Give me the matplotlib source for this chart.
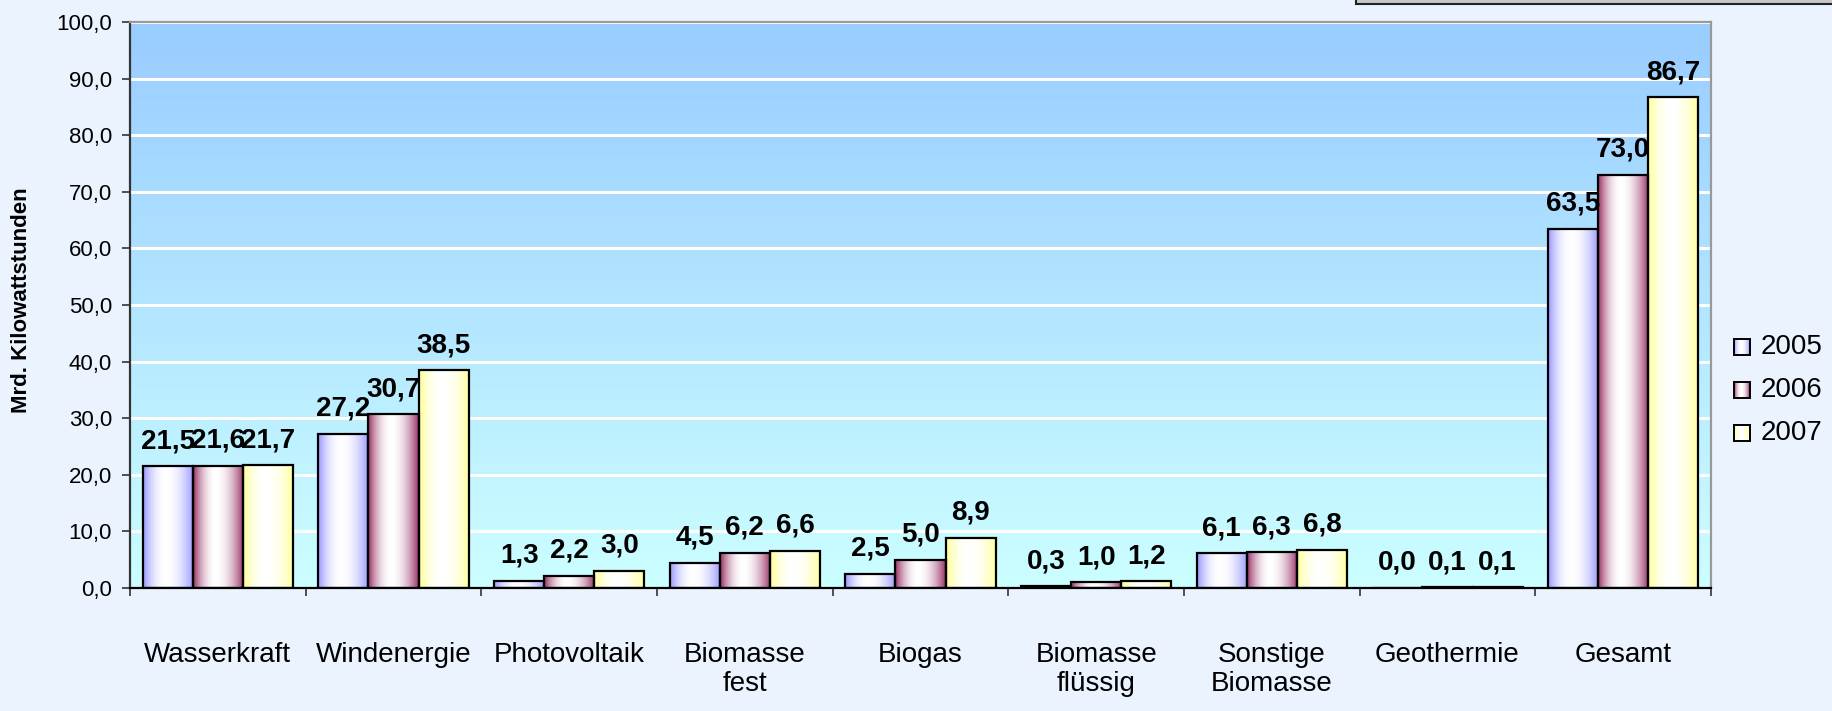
import numpy as np
import matplotlib
matplotlib.use("Agg")
import matplotlib.pyplot as plt
from matplotlib.patches import Rectangle
from matplotlib.ticker import FuncFormatter

plt.rcParams['font.family'] = ['Liberation Sans', 'DejaVu Sans']

# Daten (Mrd. kWh)
categories = ["Wasserkraft", "Windenergie", "Photovoltaik", "Biomasse\nfest", "Biogas",
              "Biomasse\nflüssig", "Sonstige\nBiomasse", "Geothermie", "Gesamt"]
years = ["2005", "2006", "2007"]
values_2005 = [21.5, 27.2, 1.3, 4.5, 2.5, 0.3, 6.1, 0.0, 63.5]
values_2006 = [21.6, 30.7, 2.2, 6.2, 5.0, 1.0, 6.3, 0.1, 73.0]
values_2007 = [21.7, 38.5, 3.0, 6.6, 8.9, 1.2, 6.8, 0.1, 86.7]
series = [values_2005, values_2006, values_2007]
colors = ["#9999FF", "#993366", "#FFFF99"]

FIG_BG = "#EAF3FE"


def bar_gradient(color, n=64, peak=0.45):
    """horizontaler Verlauf: Rand farbig, Mitte weiss"""
    t = np.linspace(0, 1, n)
    d = np.where(t < peak, (peak - t) / peak, (t - peak) / (1 - peak))
    w = 1 - d ** 2
    rgb = np.array(matplotlib.colors.to_rgb(color))
    img = rgb[None, :] * (1 - w[:, None]) + w[:, None]
    return img[None, :, :]


fig = plt.figure(figsize=(18.32, 7.11), dpi=100, facecolor=FIG_BG)
ax = fig.add_axes([130 / 1832, 1 - 588 / 711, (1711 - 130) / 1832, (588 - 22) / 711])

# Hintergrund der Zeichenflaeche
top = np.array(matplotlib.colors.to_rgb("#99CCFF"))
bottom = np.array(matplotlib.colors.to_rgb("#CCFFFF"))
s = np.linspace(0, 1, 256)[:, None]
bg = top * (1 - s) + bottom * s
ax.imshow(bg[:, None, :], extent=(0, 1, 0, 1), transform=ax.transAxes,
          aspect='auto', zorder=0, interpolation='bilinear')

x = np.arange(len(categories))
width = 0.285
for i, (vals, col) in enumerate(zip(series, colors)):
    pos = x + (i - 1) * width
    bars = ax.bar(pos, vals, width, facecolor='none', edgecolor='black',
                  linewidth=1.6, zorder=3)
    grad = bar_gradient(col)
    for b, v in zip(bars, vals):
        if b.get_height() > 0:
            ax.imshow(grad, extent=(b.get_x(), b.get_x() + b.get_width(), 0, b.get_height()),
                      aspect='auto', zorder=2, interpolation='bilinear')
        ax.annotate(f"{v:.1f}".replace('.', ','), (b.get_x() + b.get_width() / 2, b.get_height()),
                    xytext=(0, 13), textcoords='offset points', ha='center', va='baseline',
                    fontsize=20, fontweight='bold', zorder=4)

ax.set_xlim(-0.5, len(categories) - 0.5)
ax.set_ylim(0, 100)
ax.set_yticks(np.arange(0, 101, 10))
ax.yaxis.set_major_formatter(FuncFormatter(lambda v, p: f"{v:.1f}".replace('.', ',')))
ax.set_axisbelow(True)
ax.yaxis.grid(True, color='white', linewidth=2.2)

ax.set_xticks(x)
ax.set_xticklabels(categories, fontsize=20, linespacing=1.15)
ax.set_xticks(np.arange(-0.5, len(categories), 1), minor=True)
ax.tick_params(axis='x', which='major', length=0, pad=39)
ax.tick_params(axis='x', which='minor', length=6, width=1.2, color='#333333', direction='out')
ax.tick_params(axis='y', length=6, width=1.2, color='#333333', labelsize=16, pad=7)

ax.spines['left'].set_color('#333333')
ax.spines['bottom'].set_color('black')
for sp in ['left', 'bottom']:
    ax.spines[sp].set_linewidth(1.6)
for sp in ['top', 'right']:
    ax.spines[sp].set_color('#999999')
    ax.spines[sp].set_linewidth(1.6)

fig.text(22 / 1832, 1 - 300 / 711, "Mrd. Kilowattstunden", rotation=90,
         ha='center', va='center', fontsize=16, fontweight='bold')

# Legende mit Verlaufsfeldern
for i, (yr, col) in enumerate(zip(years, colors)):
    yc = 347 + i * 43
    sw = fig.add_axes([1734 / 1832, 1 - (yc + 8) / 711, 16 / 1832, 16 / 711])
    sw.imshow(bar_gradient(col), aspect='auto', interpolation='bilinear')
    sw.set_xticks([])
    sw.set_yticks([])
    for sp in sw.spines.values():
        sp.set_linewidth(1.4)
    fig.text(1761 / 1832, 1 - yc / 711, yr, ha='left', va='center', fontsize=20)

# Rahmen oben rechts (abgeschnitten)
fig.patches.append(Rectangle((1356 / 1832, 1 - 4 / 711), 0.3, 0.2, transform=fig.transFigure,
                             facecolor='#C8C8C8', edgecolor='#222222', linewidth=1.5))

fig.savefig("out.png", dpi=100, facecolor=FIG_BG)
